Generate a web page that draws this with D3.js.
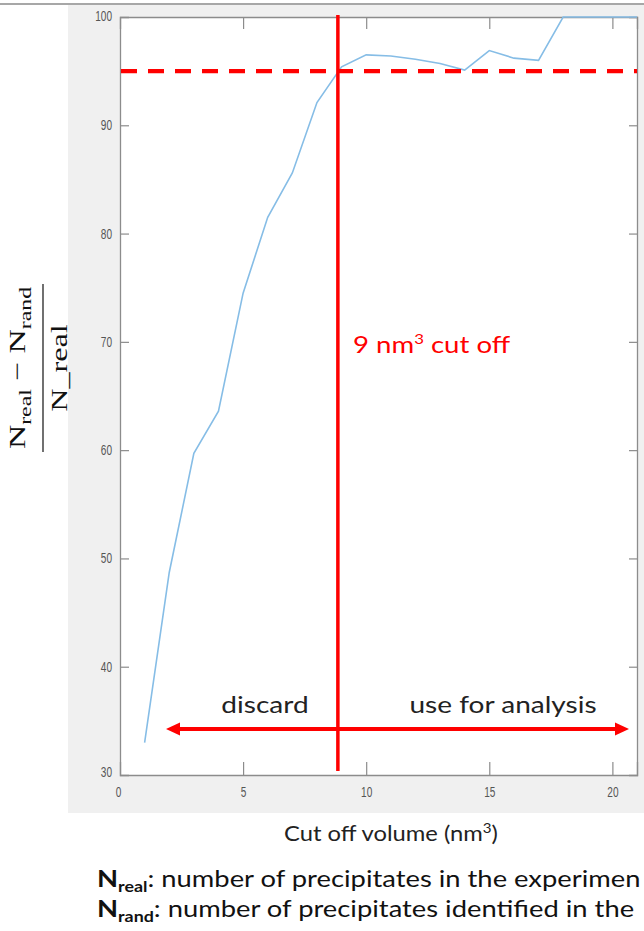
<!DOCTYPE html>
<html>
<head>
<meta charset="utf-8">
<script src="https://cdn.jsdelivr.net/npm/d3@7/dist/d3.min.js"></script>
<style>
  html, body { margin: 0; padding: 0; background: #ffffff; }
  svg { display: block; }
</style>
</head>
<body>
<svg id="chart" width="644" height="931"></svg>
<script>
// ---- data ----
const cutoffVolumes = [1, 2, 3, 4, 5, 6, 7, 8, 9, 10, 11, 12, 13, 14, 15, 16, 17, 18, 19, 20, 21];
const fractionValues = [33.0, 48.7, 59.7, 63.6, 74.5, 81.5, 85.6, 92.1, 95.4, 96.5, 96.4, 96.1, 95.7, 95.1, 96.9, 96.2, 96.0, 100, 100, 100, 100];
const xTicks = [0, 5, 10, 15, 20];
const yTicks = [30, 40, 50, 60, 70, 80, 90, 100];
const thresholdValue = 95;
const cutoffValue = 8.85;
const xDomain = [0, 21];
const yDomain = [30, 100];
const noteSubs = ["real", "rand"];
const noteTexts = [": number of precipitates in the experimen", ": number of precipitates identified in the"];

(function () {
const svg = d3.select("#chart");
const pL = 120, pR = 637, pT = 17, pB = 775;
const x = d3.scaleLinear().domain(xDomain).range([pL, pR]);
const y = d3.scaleLinear().domain(yDomain).range([pB, pT]);

// figure background panel
svg.append("rect").attr("x", 68).attr("y", 5).attr("width", 576).attr("height", 808).attr("fill", "#f0f0f0");
svg.append("line").attr("x1", 0).attr("x2", 644).attr("y1", 4).attr("y2", 4).attr("stroke", "#8a8a8a").attr("stroke-width", 1.5);

// plot area
svg.append("rect").attr("x", pL).attr("y", pT).attr("width", pR - pL).attr("height", pB - pT).attr("fill", "#ffffff");

const axisColor = "#8c8c8c";
const tickFont = "'Liberation Sans', Arial, sans-serif";

const gL = svg.append("g").attr("transform", `translate(${pL},0)`)
  .call(d3.axisLeft(y).tickValues(yTicks).tickSize(-9).tickFormat(d3.format("d")));
const gR = svg.append("g").attr("transform", `translate(${pR},0)`)
  .call(d3.axisRight(y).tickValues(yTicks).tickSize(-8).tickFormat(""));
const gB = svg.append("g").attr("transform", `translate(0,${pB})`)
  .call(d3.axisBottom(x).tickValues(xTicks).tickSize(-13).tickFormat(d3.format("d")));
const gT = svg.append("g").attr("transform", `translate(0,${pT})`)
  .call(d3.axisTop(x).tickValues(xTicks).tickSize(-12).tickFormat(""));
[gL, gR, gB, gT].forEach(g => {
  g.select(".domain").attr("stroke", axisColor).attr("stroke-width", 1.3);
  g.selectAll(".tick line").attr("stroke", axisColor).attr("stroke-width", 1.2);
  g.selectAll(".tick text").attr("fill", "#555555").attr("font-size", 14).attr("font-family", tickFont);
});
gL.selectAll(".tick line").filter(d => d === 30 || d === 100).remove();
gR.selectAll(".tick line").filter(d => d === 30 || d === 100).remove();
gB.selectAll(".tick line").filter(d => d === 0).remove();
gT.selectAll(".tick line").filter(d => d === 0).remove();
// narrow (condensed) tick labels as in the reference
gL.selectAll(".tick text")
  .attr("x", 0).attr("dy", d => d === 30 ? "0.1em" : (d === 100 ? "0.25em" : "0.32em"))
  .attr("transform", "translate(-8,0) scale(0.72,1)");
gB.selectAll(".tick text")
  .attr("y", 0).attr("dy", "0.71em")
  .attr("transform", "translate(0,12) scale(0.72,1)");
gB.selectAll(".tick").filter(d => d === 0).select("text").attr("transform", "translate(-2,12) scale(0.72,1)");

// data line
const line = d3.line().x((d, i) => x(cutoffVolumes[i])).y(d => y(d));
svg.append("path").datum(fractionValues)
  .attr("d", line).attr("fill", "none").attr("stroke", "#86bde6").attr("stroke-width", 1.6);

// threshold dashed line
svg.append("line").attr("x1", x(xDomain[0]) + 1).attr("x2", x(xDomain[1]))
  .attr("y1", y(thresholdValue)).attr("y2", y(thresholdValue))
  .attr("stroke", "#ff0000").attr("stroke-width", 4.2).attr("stroke-dasharray", "16 11");

// cutoff vertical line
svg.append("line").attr("x1", x(cutoffValue)).attr("x2", x(cutoffValue))
  .attr("y1", pT - 2).attr("y2", pB - 4)
  .attr("stroke", "#ff0000").attr("stroke-width", 3.5);

// double arrow
const arrowY = 729, arrowL = 166, arrowR = 629, ah = 14, aw = 6.5;
svg.append("line").attr("x1", arrowL + ah - 2).attr("x2", arrowR - ah + 2).attr("y1", arrowY).attr("y2", arrowY)
  .attr("stroke", "#ff0000").attr("stroke-width", 4);
svg.append("path").attr("d", `M${arrowL},${arrowY} L${arrowL + ah},${arrowY - aw} L${arrowL + ah},${arrowY + aw} Z`).attr("fill", "#ff0000");
svg.append("path").attr("d", `M${arrowR},${arrowY} L${arrowR - ah},${arrowY - aw} L${arrowR - ah},${arrowY + aw} Z`).attr("fill", "#ff0000");

const calFont = "Lato, 'Open Sans', sans-serif";
function stretchedText(px, py, sx, anchor) {
  return svg.append("text").attr("x", 0).attr("y", 0)
    .attr("transform", `translate(${px},${py}) scale(${sx},1)`)
    .attr("text-anchor", anchor).attr("font-family", calFont);
}
stretchedText(265, 713, 1.22, "middle").attr("font-size", 23).attr("fill", "#222").text("discard");
stretchedText(503, 713, 1.22, "middle").attr("font-size", 23).attr("fill", "#222").text("use for analysis");

// cutoff label
const cl = stretchedText(353, 353, 1.2, "start").attr("font-size", 23).attr("fill", "#ff0000");
cl.append("tspan").text("9 nm");
cl.append("tspan").attr("font-size", 14).attr("dy", -9).text("3");
cl.append("tspan").attr("dy", 9).text(" cut off");

// x label
const xl = stretchedText(391, 841, 1.08, "middle").attr("font-size", 22).attr("fill", "#222");
xl.append("tspan").text("Cut off volume (nm");
xl.append("tspan").attr("font-size", 14).attr("dy", -8).text("3");
xl.append("tspan").attr("dy", 8).text(")");

// y label (fraction, rotated)
const yl = svg.append("g").attr("transform", "translate(43,368) rotate(-90)");
const serif = "'Liberation Serif', 'Times New Roman', serif";
const st = yl.append("g").attr("transform", "scale(1.4,1)");
const num = st.append("text").attr("x", 0).attr("y", -18).attr("text-anchor", "middle")
  .attr("font-family", serif).attr("font-size", 24).attr("fill", "#111");
num.append("tspan").text("N");
num.append("tspan").attr("font-size", 17).attr("dy", 6).text("real");
num.append("tspan").attr("dy", -6).text(" \u2212 N");
num.append("tspan").attr("font-size", 17).attr("dy", 6).text("rand");
st.append("line").attr("x1", -60).attr("x2", 60).attr("y1", 0).attr("y2", 0)
  .attr("stroke", "#111").attr("stroke-width", 1.2);
st.append("text").attr("x", 0).attr("y", 24).attr("text-anchor", "middle")
  .attr("font-family", serif).attr("font-size", 23).attr("fill", "#111").text("N_real");

// bottom notes
noteSubs.forEach((sub, i) => {
  const t = stretchedText(97, 887 + i * 30, 1.19, "start").attr("font-size", 23).attr("fill", "#111");
  t.append("tspan").attr("font-weight", "bold").text("N");
  t.append("tspan").attr("font-weight", "bold").attr("font-size", 15).attr("dy", 5).text(sub);
  t.append("tspan").attr("dy", -5).text(noteTexts[i]);
});
})();
</script>
</body>
</html>
